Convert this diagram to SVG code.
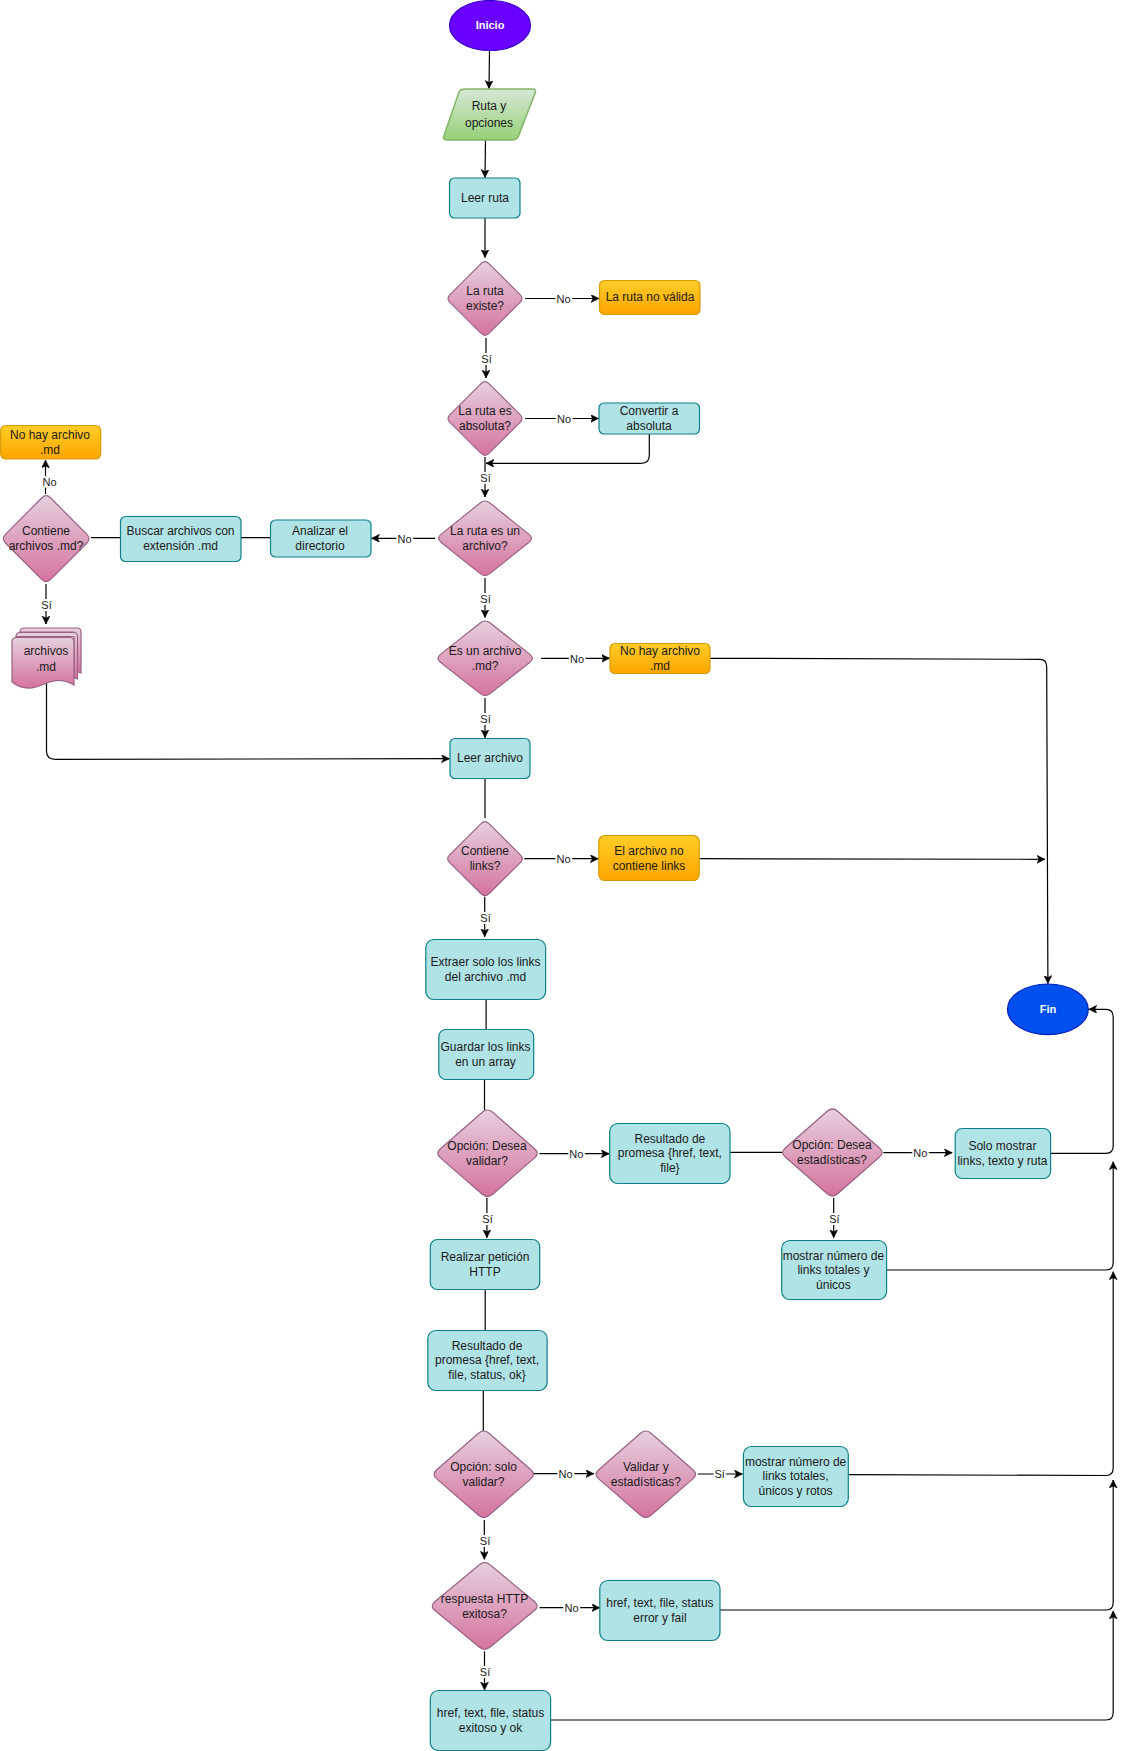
<svg xmlns="http://www.w3.org/2000/svg" width="1122" height="1751" viewBox="0 0 1122 1751">
<style>
text{font-family:"Liberation Sans",Arial,sans-serif;font-size:12px;fill:#1a1a1a;text-anchor:middle;dominant-baseline:central}
.w{fill:#fff;font-weight:bold;font-size:11px}
.lb{font-size:11px;paint-order:stroke;stroke:#fff;stroke-width:4px;stroke-linejoin:round}
.c path{fill:none;stroke:#000;stroke-width:1.2}
.a{marker-end:url(#ah)}
.t{fill:#b0e3e6;stroke:#0e8088;stroke-width:1.2}
.o{fill:url(#gO);stroke:#d79b00;stroke-width:1.2}
.d{fill:url(#gP);stroke:#996185;stroke-width:1.2}
</style>
<defs>
<linearGradient id="gP" x1="0" y1="0" x2="0" y2="1"><stop offset="0" stop-color="#e6d0de"/><stop offset="1" stop-color="#d5739d"/></linearGradient>
<linearGradient id="gO" x1="0" y1="0" x2="0" y2="1"><stop offset="0" stop-color="#ffcd28"/><stop offset="1" stop-color="#ffa500"/></linearGradient>
<linearGradient id="gG" x1="0" y1="0" x2="0" y2="1"><stop offset="0" stop-color="#d5e8d4"/><stop offset="1" stop-color="#97d077"/></linearGradient>
<marker id="ah" markerUnits="userSpaceOnUse" markerWidth="10" markerHeight="10" refX="8" refY="4" orient="auto"><path d="M0,0L8,4L0,8L2,4Z" fill="#000" stroke="#000" stroke-width=".5"/></marker>
<path id="dm" vector-effect="non-scaling-stroke" d="M-.105,-.947Q0,-1.053 .105,-.947L.947,-.105Q1.053,0 .947,.105L.105,.947Q0,1.053 -.105,.947L-.947,.105Q-1.053,0 -.947,-.105Z"/>
</defs>
<rect width="1122" height="1751" fill="#fff"/>
<g id="connectors" class="c">
<path class="a" d="M489.5,51L489,88.5"/>
<path class="a" d="M485.5,140L485,177.5"/>
<path class="a" d="M485,218V257.5"/>
<path class="a" d="M525,298.5H599"/>
<path class="a" d="M486,338V378"/>
<path class="a" d="M525,418.5H598.5"/>
<path class="a" d="M649.3,433.7V455.5Q649.3,463.3 641,463.3H486"/>
<path class="a" d="M485,457V497"/>
<path class="a" d="M435,538.3H371.5"/>
<path d="M270,537.7H241M120,537.7H91"/>
<path class="a" d="M45.5,494V460"/>
<path class="a" d="M46,584V624"/>
<path class="a" d="M46.5,683V751Q46.5,759.3 55,759.3L449.5,758.7"/>
<path class="a" d="M485,578V617.5"/>
<path class="a" d="M541,658.3H609.5"/>
<path class="a" d="M710,658.3L1040,659.3Q1046.7,659.3 1046.7,667L1047.9,983.5"/>
<path class="a" d="M485,698V737.7"/>
<path d="M485,778.7V818"/>
<path class="a" d="M524.3,858.7H598.3"/>
<path class="a" d="M699.2,858.7L1045,859.3"/>
<path class="a" d="M484.7,896.7V936.7"/>
<path d="M486.1,999.7V1029.3M484.5,1079.3V1110"/>
<path class="a" d="M539.5,1153.7H609.2"/>
<path d="M730,1152.3H782.7"/>
<path class="a" d="M883.4,1152.7H952.2"/>
<path class="a" d="M1050.6,1153.3H1106Q1113.2,1153.3 1113.2,1146V1017Q1113.2,1009.3 1106,1009.3H1088.8"/>
<path class="a" d="M486.9,1198V1237.7"/>
<path class="a" d="M833.7,1198V1237.7"/>
<path class="a" d="M886.6,1270H1106Q1113.2,1270 1113.2,1262.5V1161.7"/>
<path d="M485.2,1289.3V1330.3M483.3,1390.3V1431"/>
<path class="a" d="M533.5,1473.7H593.8"/>
<path class="a" d="M697.9,1474H742.4"/>
<path class="a" d="M848.3,1474.7L1106,1475.5Q1113.2,1475.5 1113.2,1468V1271.7"/>
<path class="a" d="M484.3,1520V1559.3"/>
<path class="a" d="M539.5,1607.7H599.8"/>
<path class="a" d="M720,1610H1106Q1113.2,1610 1113.2,1602.5V1480"/>
<path class="a" d="M484.5,1651.3V1690"/>
<path class="a" d="M550.6,1720H1106Q1113.2,1720 1113.2,1712.5V1611"/>
<text class="lb" x="563.5" y="299">No</text>
<text class="lb" x="486.5" y="359">Sí</text>
<text class="lb" x="564" y="419">No</text>
<text class="lb" x="485.5" y="478">Sí</text>
<text class="lb" x="404.5" y="539">No</text>
<text class="lb" x="49.5" y="482">No</text>
<text class="lb" x="46.5" y="605">Sí</text>
<text class="lb" x="485.5" y="599">Sí</text>
<text class="lb" x="577" y="659">No</text>
<text class="lb" x="485.5" y="719">Sí</text>
<text class="lb" x="563.5" y="859">No</text>
<text class="lb" x="485.5" y="918">Sí</text>
<text class="lb" x="576.4" y="1154">No</text>
<text class="lb" x="920.4" y="1153">No</text>
<text class="lb" x="487.5" y="1219">Sí</text>
<text class="lb" x="834.4" y="1219">Sí</text>
<text class="lb" x="565.5" y="1474">No</text>
<text class="lb" x="719.6" y="1474">Sí</text>
<text class="lb" x="485" y="1541">Sí</text>
<text class="lb" x="571.5" y="1608">No</text>
<text class="lb" x="485" y="1672">Sí</text>
</g>
<g id="inicio"><ellipse cx="490" cy="25.5" rx="40.5" ry="25" fill="#6a00ff" stroke="#3700cc" stroke-width="1.2"/><text class="w" x="490" y="25">Inicio</text></g>
<g id="ruta-opciones"><path d="M459,92Q460.5,89 465,89H532Q537,89 535,93.5L518.5,136Q517,140 512,140H447Q442,140 444,135.5Z" fill="url(#gG)" stroke="#82b366" stroke-width="1.5"/><text x="489" y="106">Ruta y</text><text x="489" y="122.5">opciones</text></g>
<g id="leer-ruta"><rect class="t" x="449.5" y="178" width="70.5" height="40" rx="5"/><text x="485" y="197.5">Leer ruta</text></g>
<g id="ruta-existe"><use href="#dm" class="d" transform="translate(485,298.5) scale(37,36.8)"/><text x="485" y="290.5">La ruta</text><text x="485" y="305.5">existe?</text></g>
<g id="ruta-no-valida"><rect class="o" x="599.5" y="280.5" width="100.5" height="34" rx="5"/><text x="650" y="297">La ruta no válida</text></g>
<g id="ruta-absoluta"><use href="#dm" class="d" transform="translate(485,418.5) scale(37,36.8)"/><text x="485" y="410.5">La ruta es</text><text x="485" y="425.5">absoluta?</text></g>
<g id="convertir"><rect class="t" x="599" y="403" width="100.5" height="31" rx="5"/><text x="649" y="411">Convertir a</text><text x="649" y="426">absoluta</text></g>
<g id="ruta-archivo"><use href="#dm" class="d" transform="translate(485,538.3) scale(46.5,37.3)"/><text x="485" y="530.5">La ruta es un</text><text x="485" y="545.5">archivo?</text></g>
<g id="analizar"><rect class="t" x="270.5" y="520" width="100.5" height="37" rx="5"/><text x="320" y="530.5">Analizar el</text><text x="320" y="545.5">directorio</text></g>
<g id="buscar"><rect class="t" x="120.5" y="516.5" width="120.5" height="45" rx="5"/><text x="180.5" y="530.5">Buscar archivos con</text><text x="180.5" y="545.5">extensión .md</text></g>
<g id="contiene-archivos"><use href="#dm" class="d" transform="translate(46.2,538.7) scale(42.8,43)"/><text x="46" y="530.5">Contiene</text><text x="46" y="546">archivos .md?</text></g>
<g id="no-hay-archivo-1"><rect class="o" x="0.7" y="425.5" width="100" height="33.5" rx="5"/><text x="50" y="434.5">No hay archivo</text><text x="50" y="449.5">.md</text></g>
<g id="archivos-md">
<path class="d" d="M20,632Q20,628 24,628H77Q81,628 81,632V673C78,672 76,671.5 74,671V632Z"/>
<path class="d" d="M16,636.5Q16,632.5 20,632.5H73.5Q77.5,632.5 77.5,636.5V679C76,678.5 75,678 74,677.5V636.5Z"/>
<path class="d" d="M12,642Q12,637.5 16.5,637.5H69.5Q74,637.5 74,642V685C62,678 52,680 44,684C34,689 22,690 12,682Z"/>
<text x="46" y="650.5">archivos</text><text x="46" y="666.5">.md</text></g>
<g id="es-archivo-md"><use href="#dm" class="d" transform="translate(485.2,658.3) scale(47.3,37.3)"/><text x="485" y="650.5">Es un archivo</text><text x="485" y="665.5">.md?</text></g>
<g id="no-hay-archivo-2"><rect class="o" x="610" y="643.5" width="100" height="30" rx="5"/><text x="660" y="651">No hay archivo</text><text x="660" y="666">.md</text></g>
<g id="leer-archivo"><rect class="t" x="450" y="738.5" width="80" height="40" rx="5"/><text x="490" y="757.5">Leer archivo</text></g>
<g id="contiene-links"><use href="#dm" class="d" transform="translate(485,858.7) scale(37.3,37)"/><text x="485" y="850.5">Contiene</text><text x="485" y="865.5">links?</text></g>
<g id="archivo-sin-links"><rect class="o" x="598.8" y="835.5" width="100.4" height="45" rx="6"/><text x="649" y="850.5">El archivo no</text><text x="649" y="865.5">contiene links</text></g>
<g id="extraer"><rect class="t" x="425.8" y="939.5" width="119.8" height="60" rx="8"/><text x="485.5" y="961.5">Extraer solo los links</text><text x="485.5" y="976.5">del archivo .md</text></g>
<g id="guardar"><rect class="t" x="438.8" y="1029.5" width="94.9" height="50" rx="7"/><text x="485.5" y="1046.5">Guardar los links</text><text x="485.5" y="1062">en un array</text></g>
<g id="opcion-validar"><use href="#dm" class="d" transform="translate(487.5,1153.3) scale(49.7,43.3)"/><text x="487" y="1145.5">Opción: Desea</text><text x="487" y="1160.5">validar?</text></g>
<g id="resultado-1"><rect class="t" x="609.7" y="1123.5" width="120.3" height="60" rx="8"/><text x="669.9" y="1138.5">Resultado de</text><text x="669.9" y="1153">promesa {href, text,</text><text x="669.9" y="1167.5">file}</text></g>
<g id="opcion-estadisticas"><use href="#dm" class="d" transform="translate(832.4,1152.5) scale(49.7,43.5)"/><text x="832" y="1144.5">Opción: Desea</text><text x="832" y="1159.5">estadísticas?</text></g>
<g id="solo-mostrar"><rect class="t" x="955.2" y="1128.5" width="95.4" height="50" rx="7"/><text x="1002.4" y="1145.5">Solo mostrar</text><text x="1002.4" y="1160.5">links, texto y ruta</text></g>
<g id="fin"><ellipse cx="1047.9" cy="1009.3" rx="40.4" ry="25.3" fill="#0050ef" stroke="#001dbc" stroke-width="1.2"/><text class="w" x="1048" y="1008.5">Fin</text></g>
<g id="realizar-peticion"><rect class="t" x="430.3" y="1239.5" width="109.4" height="50" rx="7"/><text x="485" y="1256.5">Realizar petición</text><text x="485" y="1271.5">HTTP</text></g>
<g id="mostrar-1"><rect class="t" x="781.7" y="1240.5" width="104.9" height="59" rx="8"/><text x="833.4" y="1255.5">mostrar número de</text><text x="833.4" y="1269.5">links totales y</text><text x="833.4" y="1284.5">únicos</text></g>
<g id="resultado-2"><rect class="t" x="427.8" y="1330.5" width="119.3" height="60" rx="8"/><text x="487" y="1345.5">Resultado de</text><text x="487" y="1360">promesa {href, text,</text><text x="487" y="1374.5">file, status, ok}</text></g>
<g id="opcion-solo-validar"><use href="#dm" class="d" transform="translate(483.8,1474.3) scale(49.7,43.3)"/><text x="483.5" y="1467">Opción: solo</text><text x="483.5" y="1481.5">validar?</text></g>
<g id="validar-estadisticas"><use href="#dm" class="d" transform="translate(645.8,1474.3) scale(49.7,43.3)"/><text x="645.8" y="1467">Validar y</text><text x="645.8" y="1481.5">estadísticas?</text></g>
<g id="mostrar-2"><rect class="t" x="743.4" y="1446.5" width="104.9" height="60" rx="8"/><text x="795.6" y="1461.5">mostrar número de</text><text x="795.6" y="1475.5">links totales,</text><text x="795.6" y="1490.5">únicos y rotos</text></g>
<g id="respuesta-http"><use href="#dm" class="d" transform="translate(484.7,1606) scale(52.5,43.3)"/><text x="484.5" y="1599">respuesta HTTP</text><text x="484.5" y="1613.5">exitosa?</text></g>
<g id="href-error"><rect class="t" x="599.8" y="1580.5" width="120.2" height="60" rx="8"/><text x="659.9" y="1602.5">href, text, file, status</text><text x="659.9" y="1617.5">error y fail</text></g>
<g id="href-ok"><rect class="t" x="430.3" y="1690.5" width="120.3" height="60" rx="8"/><text x="490.5" y="1712.5">href, text, file, status</text><text x="490.5" y="1727.5">exitoso y ok</text></g>
</svg>
